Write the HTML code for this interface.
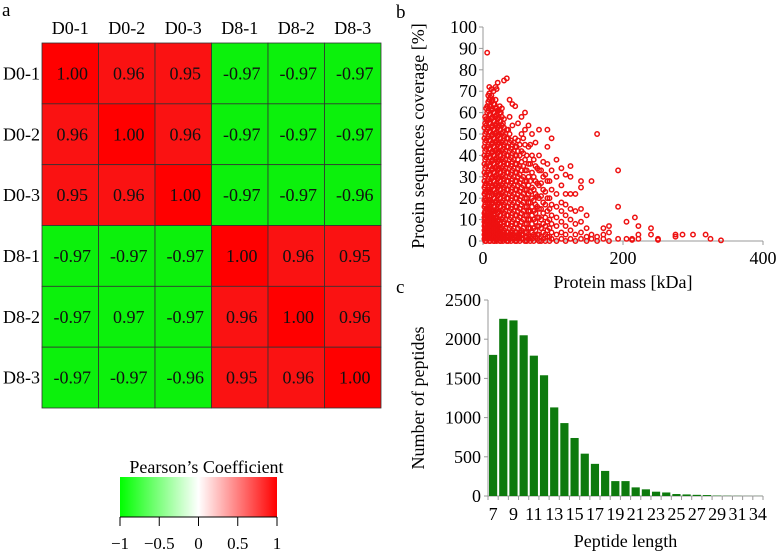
<!DOCTYPE html>
<html><head><meta charset="utf-8"><style>
body{margin:0;background:#fff;}
svg{display:block;font-family:"Liberation Serif",serif;}
</style></head><body>
<svg id="fig" width="778" height="554" viewBox="0 0 778 554">
<text x="2" y="16" font-size="19">a</text>
<text x="396" y="18" font-size="19">b</text>
<text x="396" y="293" font-size="19">c</text>
<g id="heat"></g>
<g id="cbar"></g>
<g id="scat"></g>
<g id="bars"></g>
</svg>
<script>
const NS="http://www.w3.org/2000/svg";
function mk(p,t,a,txt){const e=document.createElementNS(NS,t);for(const k in a)e.setAttribute(k,a[k]);if(txt!==undefined)e.textContent=txt;p.appendChild(e);return e;}

// ---- heatmap data ----
const samples=["D0-1","D0-2","D0-3","D8-1","D8-2","D8-3"];
const corrValues=[
[1.00,0.96,0.95,-0.97,-0.97,-0.97],
[0.96,1.00,0.96,-0.97,-0.97,-0.97],
[0.95,0.96,1.00,-0.97,-0.97,-0.96],
[-0.97,-0.97,-0.97,1.00,0.96,0.95],
[-0.97,-0.97,-0.97,0.96,1.00,0.96],
[-0.97,-0.97,-0.96,0.95,0.96,1.00]];
const corrLabels=[
["1.00","0.96","0.95","-0.97","-0.97","-0.97"],
["0.96","1.00","0.96","-0.97","-0.97","-0.97"],
["0.95","0.96","1.00","-0.97","-0.97","-0.96"],
["-0.97","-0.97","-0.97","1.00","0.96","0.95"],
["-0.97","0.97","-0.97","0.96","1.00","0.96"],
["-0.97","-0.97","-0.96","0.95","0.96","1.00"]];
const cbTicks=[-1,-0.5,0,0.5,1];
const cbTickLabels=["\u22121","\u22120.5","0","0.5","1"];

// ---- scatter data ----
const blobMass=[3,6,9,12,15,18,21,24,27,30,34,38,42,46,50,55,60,65,70,75,80,86,92,98,105,112,118,125,132,140,148,155,163,172,180,193,205,213,217,222,240,250,275,285,300,318,325,340];
const blobCov=[
[0,2,4,6,8,10,12,14,17,20,23,26,30,34,38,42,46,50,55,58],
[1,3,5,7,9,11,13,15,18,21,24,28,32,36,40,44,48,52,56,60,63,88],
[0,2,4,6,8,10,12,15,18,21,24,27,31,35,39,43,47,51,55,59,63,66,69,72],
[1,3,5,7,9,11,13,15,17,21,25,29,33,37,41,45,49,53,57,61,65,68,71],
[0,2,4,6,8,10,12,14,16,20,24,28,32,36,40,44,48,52,56,60,64,70],
[1,3,5,7,9,11,14,18,22,26,30,34,38,42,46,50,54,58,62,66,72],
[1,3,5,7,9,13,17,21,25,29,33,37,41,45,49,53,57,61,74],
[0,2,4,6,8,12,16,20,24,28,32,36,40,44,48,52,56,60,63],
[1,3,6,10,14,18,22,26,30,34,38,42,46,50,54,58,62],
[1,3,5,9,13,17,21,25,29,33,37,41,45,49,53,57,75],
[0,2,4,8,12,16,20,24,28,32,36,40,44,48,52,76],
[1,3,6,10,14,18,22,26,30,34,38,42,46,50,58,66],
[1,3,5,9,13,17,21,25,29,33,37,41,45,54,64],
[0,2,4,8,12,16,20,24,28,32,36,40,44,48,63],
[1,3,6,10,14,18,22,26,30,34,38,42,47,55],
[1,3,5,9,13,17,21,25,29,33,37,42,50,58],
[0,2,4,8,12,16,20,24,28,33,38,45,52,60],
[1,3,6,10,14,18,22,26,30,36,44,54],
[1,4,8,12,16,20,25,32,40,50],
[2,5,9,13,17,22,28,35,46],
[0,3,7,11,15,20,26,33,40,52],
[1,4,8,13,18,24,30,37],
[2,5,9,14,20,28,36,44,52],
[1,4,8,12,17,24,33,48],
[0,3,7,11,16,22,30,38],
[1,4,9,14,18,26,34],
[0,3,7,12,17,22,31],
[1,5,10,15,22,35,30],
[0,3,8,14,22],
[1,4,9,15,28,25],
[0,2,6,12],
[1,3,28],
[0,2,50],
[1,3,6],
[0,4,7],
[33,16,1],
[9,1],
[1,0.5],
[11],
[3,1,7],
[3,6],
[1,0.5],
[3,2],
[3],
[3],
[3],
[1],
[0.3]];
// additional dense-core observations
const coreMass=[2,4.5,7.5,10.5,13.5,16.5,19.5,22.5,25.5,28.5,32,36,40,44,48,52.5,57.5,62.5,67.5,72.5,77.5,83,89,95];
const coreCov=[
[1,3,5,7,9,11,13,16,19,22,25,28,32,36,40,44,48,53],
[0,2,4,6,9,12,15,19,23,27,31,35,39,43,47,51,54,57,62],
[1,3,5,7,9,11,13,16,19,23,26,29,33,37,41,45,49,53,57,61,65,68],
[0,2,4,6,8,10,13,16,19,23,27,31,35,39,43,47,51,55,59,63,67],
[1,3,5,7,9,11,14,18,22,26,30,34,38,42,46,50,54,58,62,66],
[0,2,4,6,8,10,12,16,20,24,28,32,36,40,44,48,52,56,60,64],
[0,2,4,6,8,11,15,19,23,27,31,35,39,43,47,51,55,59,62,71],
[1,3,5,7,10,14,18,22,26,30,34,38,42,46,50,54,58,61],
[0,2,4,8,12,16,20,24,28,32,36,40,44,48,52,56,60],
[0,2,4,7,11,15,19,23,27,31,35,39,43,47,51,55],
[1,3,6,10,14,18,22,26,30,34,38,42,46,50],
[0,2,4,8,12,16,20,24,28,32,36,40,44,48,52],
[0,2,4,7,11,15,19,23,27,31,35,39,43,47],
[1,3,6,10,14,18,22,26,30,34,38,42,46],
[0,2,4,8,12,16,20,24,28,32,36,40,44],
[0,2,4,7,11,15,19,23,27,31,35,40,45],
[1,3,6,10,14,18,22,26,30,35,41,48],
[0,2,4,8,12,16,20,24,28,33,40],
[0,2,6,10,14,18,23,28,36,45],
[0,3,6,10,14,19,24,30,38],
[1,3,7,11,16,21,27,34],
[0,2,6,10,15,21,27,33],
[0,3,7,11,17,23,31],
[0,2,6,10,15,20,28]];
const scatXTicks=[0,200,400];
const scatYTicks=[0,10,20,30,40,50,60,70,80,90,100];

// ---- bar data ----
const lengths=[7,8,9,10,11,12,13,14,15,16,17,18,19,20,21,22,23,24,25,26,27,28,29,30,31,32,34];
const counts=[1800,2260,2240,2050,1790,1540,1130,930,740,540,410,320,190,190,110,85,55,45,25,20,15,12,5,3,2,1,1];
const barYTicks=[0,500,1000,1500,2000,2500];
const barXLabels=["7","9","11","13","15","17","19","21","23","25","27","29","31","34"];

const FS=18;
// ===== heatmap =====
const heat=document.getElementById('heat');
const hx0=42,hx1=381,hy0=43,hy1=408;
const cw=(hx1-hx0)/samples.length,ch=(hy1-hy0)/samples.length;
function cellColor(v){if(v>=0.999)return "#ff0000";return v>0?"#fa1212":"#0cf10c";}
samples.forEach((s,j)=>{
  const t=mk(heat,'text',{x:hx0+cw*j+cw/2,y:hy0-9,'font-size':FS,'text-anchor':'middle'},s);
  
  
  const r=mk(heat,'text',{x:hx0-2,y:hy0+ch*j+ch/2+6,'font-size':FS,'text-anchor':'end'},s);
  
  
});
corrValues.forEach((row,i)=>row.forEach((v,j)=>{
  const label=corrLabels[i][j];
  const c=mk(heat,'rect',{x:hx0+cw*j,y:hy0+ch*i,width:cw,height:ch,fill:(label.startsWith('-')||(i>=3)!==(j>=3))?"#0cf10c":cellColor(v),stroke:"#333",'stroke-width':0.8});
  
  
  const t=mk(heat,'text',{x:hx0+cw*j+cw/2+2,y:hy0+ch*i+ch/2+6,'font-size':FS,'text-anchor':'middle',fill:'#111'},label);
  
  
}));

// ===== colorbar =====
const cb=document.getElementById('cbar');
const cbx0=120,cbx1=277,cby0=477,cby1=517;
const defs=mk(cb,'defs',{});
const lg=mk(defs,'linearGradient',{id:'cbg',x1:0,x2:1,y1:0,y2:0});
mk(lg,'stop',{offset:'0','stop-color':'#00ff00'});
mk(lg,'stop',{offset:'0.5','stop-color':'#ffffff'});
mk(lg,'stop',{offset:'1','stop-color':'#ff0000'});
const cbt=mk(cb,'text',{x:(cbx0+cbx1)/2+8,y:cby0-4,'font-size':FS,'text-anchor':'middle'},"Pearson\u2019s Coefficient");


const cbr=mk(cb,'rect',{x:cbx0,y:cby0,width:cbx1-cbx0,height:cby1-cby0,fill:'url(#cbg)'});


mk(cb,'line',{x1:cbx0,x2:cbx1,y1:cby1,y2:cby1,stroke:'#000','stroke-width':1});
const cbScale=v=>cbx0+(v+1)/2*(cbx1-cbx0);
cbTicks.forEach((v,k)=>{
  mk(cb,'line',{x1:cbScale(v),x2:cbScale(v),y1:cby1,y2:cby1+9,stroke:'#000','stroke-width':1});
  const t=mk(cb,'text',{x:cbScale(v),y:cby1+32,'font-size':FS-1,'text-anchor':'middle'},cbTickLabels[k]);
  
  
});

// ===== scatter =====
const sc=document.getElementById('scat');
const sx0=483,sx1=763,sy0=241,sy1=27;
const sX=m=>sx0+m/400*(sx1-sx0), sY=c=>sy0-c/100*(sy0-sy1);
mk(sc,'line',{x1:sx0,x2:sx1,y1:sy0,y2:sy0,stroke:'#999','stroke-width':1});
mk(sc,'line',{x1:sx0,x2:sx0,y1:sy0,y2:sy1,stroke:'#999','stroke-width':1});
scatYTicks.forEach(v=>{
  mk(sc,'line',{x1:sx0-4,x2:sx0,y1:sY(v),y2:sY(v),stroke:'#999'});
  const t=mk(sc,'text',{x:sx0-6,y:sY(v)+6,'font-size':FS,'text-anchor':'end'},String(v));
  
  
});
scatXTicks.forEach(v=>{
  mk(sc,'line',{x1:sX(v),x2:sX(v),y1:sy0,y2:sy0+4,stroke:'#999'});
  const t=mk(sc,'text',{x:sX(v),y:sy0+23,'font-size':FS,'text-anchor':'middle'},String(v));
  
  
});
const sxt=mk(sc,'text',{x:(sx0+sx1)/2,y:sy0+47,'font-size':FS,'text-anchor':'middle'},"Protein mass [kDa]");


const syt=mk(sc,'text',{x:0,y:0,'font-size':FS,'text-anchor':'middle',transform:'translate(424,'+((sy0+sy1)/2+2)+') rotate(-90)'},"Proein sequences coverage [%]");


function drawPts(masses,covs){
  masses.forEach((m,i)=>covs[i].forEach(c=>{
    const p=mk(sc,'circle',{cx:sX(m),cy:sY(c),r:2.2,fill:'none',stroke:'#ee1111','stroke-width':1.5});
    
    
  }));
}
drawPts(blobMass,blobCov);
drawPts(coreMass,coreCov);

// ===== bars =====
const bc=document.getElementById('bars');
const bx0=488,bx1=763,by0=496,by1=300;
const bw=(bx1-bx0)/lengths.length;
const bY=v=>by0-v/2500*(by0-by1);
mk(bc,'line',{x1:bx0,x2:bx1,y1:by0,y2:by0,stroke:'#999','stroke-width':1});
mk(bc,'line',{x1:bx0,x2:bx0,y1:by0,y2:by1,stroke:'#999','stroke-width':1});
barYTicks.forEach(v=>{
  mk(bc,'line',{x1:bx0-4,x2:bx0,y1:bY(v),y2:bY(v),stroke:'#999'});
  const t=mk(bc,'text',{x:bx0-7,y:bY(v)+6,'font-size':FS,'text-anchor':'end'},String(v));
  
  
});
for(let k=0;k<=lengths.length;k++) mk(bc,'line',{x1:bx0+k*bw,x2:bx0+k*bw,y1:by0,y2:by0+4,stroke:'#999'});
lengths.forEach((L,k)=>{
  const b=mk(bc,'rect',{x:bx0+k*bw+1,y:bY(counts[k]),width:bw-2,height:by0-bY(counts[k]),fill:'#0d7a0d'});
  
  
  if(barXLabels.includes(String(L))){
    const t=mk(bc,'text',{x:bx0+k*bw+bw/2,y:by0+24,'font-size':FS,'text-anchor':'middle'},String(L));
    
    
  }
});
const bxt=mk(bc,'text',{x:(bx0+bx1)/2,y:by0+51,'font-size':FS,'text-anchor':'middle'},"Peptide length");


const byt=mk(bc,'text',{x:0,y:0,'font-size':FS,'text-anchor':'middle',transform:'translate(424,'+((by0+by1)/2)+') rotate(-90)'},"Number of peptides");


</script>
</body></html>
